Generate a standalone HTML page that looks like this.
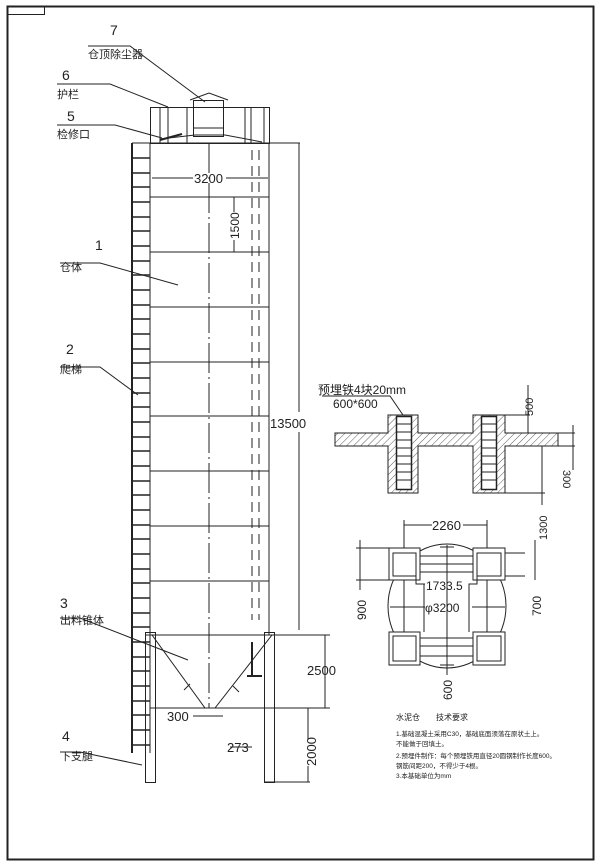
<!DOCTYPE html>
<html><head><meta charset="utf-8"><style>
html,body{margin:0;padding:0;background:#fff}
svg{display:block}
text{font-family:"Liberation Sans","Noto Sans CJK SC",sans-serif;fill:#222}
</style></head><body>
<svg width="600" height="868" viewBox="0 0 600 868" xmlns="http://www.w3.org/2000/svg">
<defs>
<pattern id="h" width="5" height="5" patternUnits="userSpaceOnUse" patternTransform="rotate(45)">
<line x1="0" y1="0" x2="0" y2="5" stroke="#333" stroke-width="0.8"/></pattern>
</defs>
<g fill="none" stroke="#222" stroke-width="1">
<!-- frame -->
<rect x="7.5" y="6.5" width="586" height="853" stroke-width="2"/>
<rect x="7.5" y="6.5" width="37" height="8"/>

<!-- roof / guardrail -->
<rect x="150.5" y="107.5" width="119" height="36"/>
<line x1="160" y1="107" x2="160" y2="143"/><line x1="168" y1="107" x2="168" y2="143"/>
<line x1="187" y1="107" x2="187" y2="143"/><line x1="245" y1="107" x2="245" y2="143"/>
<line x1="251" y1="107" x2="251" y2="143"/><line x1="264" y1="107" x2="264" y2="143"/>
<rect x="193.5" y="100.5" width="30" height="36"/>
<polyline points="190,100 209,93 228,100"/>
<line x1="193" y1="128" x2="223" y2="128"/>
<polyline points="160,139 195,135 225,135 262,142"/>
<line x1="160" y1="140" x2="182" y2="134" stroke-width="2"/>

<!-- tank -->
<line x1="132" y1="143" x2="300" y2="143"/>
<line x1="150" y1="143" x2="150" y2="635"/>
<line x1="269" y1="143" x2="269" y2="635"/>
<line x1="209" y1="143" x2="209" y2="708" stroke-dasharray="30,4,2,4"/>
<line x1="252" y1="150" x2="252" y2="620" stroke-dasharray="10,6"/>
<line x1="259" y1="150" x2="259" y2="620" stroke-dasharray="10,6"/>
<g>
<line x1="150" y1="197" x2="269" y2="197"/><line x1="150" y1="252" x2="269" y2="252"/>
<line x1="150" y1="307" x2="269" y2="307"/><line x1="150" y1="362" x2="269" y2="362"/>
<line x1="150" y1="416" x2="269" y2="416"/><line x1="150" y1="471" x2="269" y2="471"/>
<line x1="150" y1="526" x2="269" y2="526"/><line x1="150" y1="581" x2="269" y2="581"/>
<line x1="145" y1="635" x2="330" y2="635"/>
<line x1="150" y1="708" x2="330" y2="708"/>
</g>
<!-- 3200 dim -->
<line x1="152" y1="178" x2="193" y2="178"/><line x1="226" y1="178" x2="268" y2="178"/>
<!-- 1500 dim -->
<line x1="234" y1="197" x2="234" y2="212"/><line x1="234" y1="240" x2="234" y2="252"/>
<!-- 13500 -->
<line x1="299" y1="143" x2="299" y2="412"/><line x1="299" y1="432" x2="299" y2="630"/>

<!-- ladder -->
<line x1="132" y1="143" x2="132" y2="753" stroke-width="2"/>
<line x1="150" y1="143" x2="150" y2="753"/>
<path id="rungs" d="M132 158H150M132 173H150M132 187H150M132 202H150M132 217H150M132 231H150M132 246H150M132 261H150M132 275H150M132 290H150M132 305H150M132 319H150M132 334H150M132 349H150M132 363H150M132 378H150M132 393H150M132 407H150M132 422H150M132 437H150M132 451H150M132 466H150M132 481H150M132 495H150M132 510H150M132 525H150M132 539H150M132 554H150M132 569H150M132 583H150M132 598H150M132 613H150M132 627H150M132 642H150M132 657H150M132 671H150M132 686H150M132 701H150M132 715H150M132 730H150M132 745H150" stroke-width="1.5"/>

<!-- cone -->
<polyline points="152,635 205,708 215,708 272,635"/>
<rect x="145.5" y="632.5" width="10" height="150"/>
<rect x="264.5" y="632.5" width="10" height="150"/>
<line x1="252" y1="642" x2="252" y2="676" stroke-width="2"/><line x1="247" y1="676" x2="262" y2="676" stroke-width="2"/>
<line x1="184" y1="690" x2="190" y2="684"/><line x1="233" y1="686" x2="239" y2="692"/>
<line x1="193" y1="716" x2="223" y2="716"/>
<line x1="230" y1="747" x2="252" y2="747"/>
<line x1="325" y1="635" x2="325" y2="708"/>
<line x1="308" y1="708" x2="308" y2="740"/><line x1="308" y1="766" x2="308" y2="782"/>
<line x1="264" y1="782" x2="310" y2="782"/>

<!-- leaders -->
<polyline points="88,46 130,46 205,102"/>
<polyline points="57,84 110,84 168,107"/>
<polyline points="57,125 115,125 162,138"/>
<polyline points="60,263 100,263 178,285"/>
<polyline points="60,367 100,367 138,395"/>
<polyline points="60,618 80,618 188,660"/>
<polyline points="60,752 80,752 142,765"/>

<!-- foundation section -->
<path d="M335 433H388V415H418V433H473V415H505V433H558V446H505V493H473V446H418V493H388V446H335Z" fill="url(#h)"/>
<rect x="396.5" y="416.5" width="15" height="73" fill="#fff" stroke-width="1.5"/>
<rect x="481.5" y="416.5" width="15" height="73" fill="#fff" stroke-width="1.5"/>
<path d="M397 424H411M397 432H411M397 440H411M397 448H411M397 456H411M397 464H411M397 472H411M397 480H411M482 424H496M482 432H496M482 440H496M482 448H496M482 456H496M482 464H496M482 472H496M482 480H496"/>
<polyline points="322,396 390,396 403,415"/>
<line x1="505" y1="415" x2="530" y2="415"/><line x1="528" y1="385" x2="528" y2="433"/>
<line x1="558" y1="433" x2="575" y2="433"/><line x1="558" y1="446" x2="575" y2="446"/>
<line x1="573" y1="425" x2="573" y2="470"/>
<line x1="505" y1="493" x2="545" y2="493"/><line x1="542" y1="446" x2="542" y2="505"/>

<!-- plan -->
<line x1="404" y1="525" x2="432" y2="525"/><line x1="463" y1="525" x2="487" y2="525"/>
<line x1="404" y1="520" x2="404" y2="665"/><line x1="487" y1="520" x2="487" y2="665"/>
<ellipse cx="447" cy="606" rx="59" ry="62"/>
<path d="M389 548H420V580H389Z M473 548H505V580H473Z M389 632H420V665H389Z M473 632H505V665H473Z" fill="#fff"/>
<path d="M393 553H416V576H393Z M477 553H501V576H477Z M393 636H416V661H393Z M477 636H501V661H477Z"/>
<path d="M420 556H473M420 564H473M420 572H473M420 638H473M420 646H473M420 656H473"/>
<path d="M416 576V584H424V632 M477 576V584H469V632"/>
<line x1="356" y1="548" x2="392" y2="548"/><line x1="356" y1="580" x2="392" y2="580"/>
<line x1="360" y1="540" x2="360" y2="590"/>
<line x1="505" y1="553" x2="525" y2="553"/><line x1="505" y1="576" x2="525" y2="576"/>
<line x1="535" y1="540" x2="535" y2="580"/>
<line x1="447" y1="545" x2="447" y2="675"/>
<line x1="440" y1="547" x2="454" y2="547"/><line x1="440" y1="665" x2="454" y2="665"/>
<line x1="390" y1="607" x2="425" y2="607"/><line x1="472" y1="607" x2="505" y2="607"/>
<line x1="418" y1="584" x2="425" y2="584"/><line x1="470" y1="584" x2="476" y2="584"/>
</g>

<!-- labels -->
<g font-size="11">
<text x="110" y="35" font-size="14">7</text>
<text x="88" y="58" font-size="11">仓顶除尘器</text>
<text x="62" y="80" font-size="14">6</text>
<text x="57" y="98">护栏</text>
<text x="67" y="121" font-size="14">5</text>
<text x="57" y="138">检修口</text>
<text x="95" y="250" font-size="14">1</text>
<text x="60" y="271">仓体</text>
<text x="66" y="354" font-size="14">2</text>
<text x="60" y="373">爬梯</text>
<text x="60" y="608" font-size="14">3</text>
<text x="60" y="624">出料锥体</text>
<text x="62" y="741" font-size="14">4</text>
<text x="60" y="760">下支腿</text>
</g>
<g font-size="13">
<text x="194" y="183">3200</text>
<text x="270" y="428">13500</text>
<text x="307" y="675">2500</text>
<text x="167" y="721">300</text>
<text x="227" y="752">273</text>
<text transform="translate(239,239) rotate(-90)" font-size="12">1500</text>
<text transform="translate(316,766) rotate(-90)">2000</text>
<text x="318" y="394" font-size="12">预埋铁4块20mm</text>
<text x="333" y="408" font-size="12">600*600</text>
<text transform="translate(533,416) rotate(-90)" font-size="11">500</text>
<text transform="translate(563,470) rotate(90)" font-size="11">300</text>
<text transform="translate(547,540) rotate(-90)" font-size="11">1300</text>
<text x="432" y="530">2260</text>
<text x="426" y="590" font-size="12">1733.5</text>
<text x="425" y="612" font-size="12">φ3200</text>
<text transform="translate(366,620) rotate(-90)" font-size="12">900</text>
<text transform="translate(541,616) rotate(-90)" font-size="12">700</text>
<text transform="translate(452,700) rotate(-90)" font-size="12">600</text>
</g>
<g font-size="6.5">
<text x="396" y="720" font-size="8">水泥仓　　技术要求</text>
<text x="396" y="736">1.基础混凝土采用C30，基础底面须落在原状土上。</text>
<text x="396" y="746">不能做于回填土。</text>
<text x="396" y="758">2.预埋件制作：每个预埋铁用直径20圆钢制作长度600。</text>
<text x="396" y="768">钢筋间距200，不得少于4根。</text>
<text x="396" y="778">3.本基础单位为mm</text>
</g>
</svg>
</body></html>
